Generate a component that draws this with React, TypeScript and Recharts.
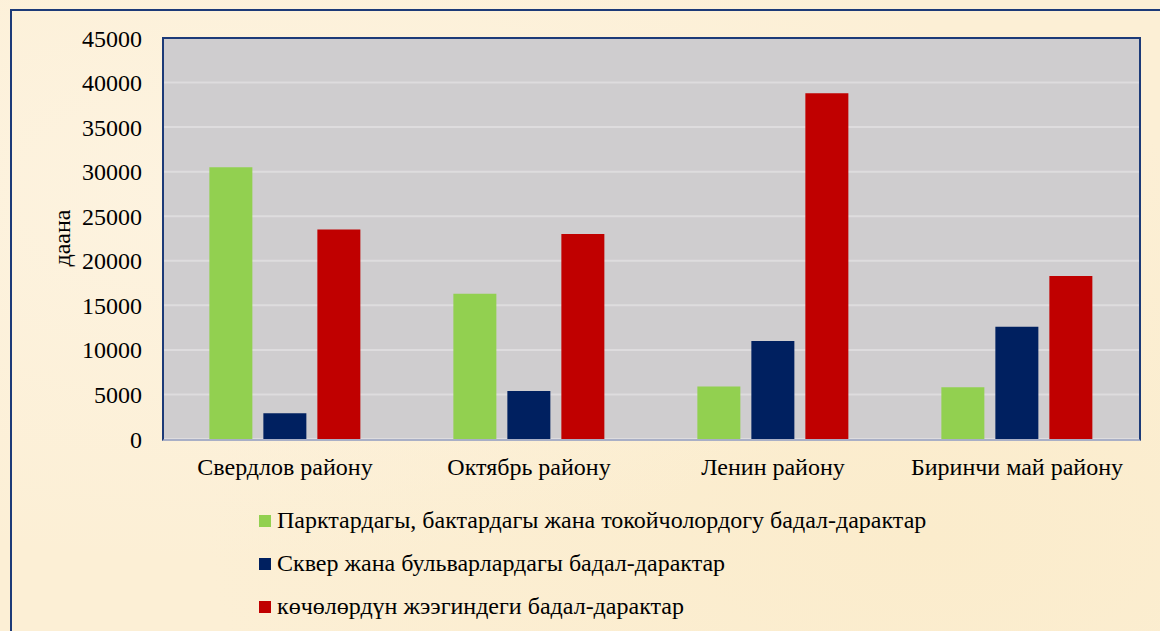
import { BarChart, Bar, XAxis, YAxis, CartesianGrid } from "recharts";

const districts = ["Свердлов району", "Октябрь району", "Ленин району", "Биринчи май району"];
const parks = [30500, 16300, 5900, 5800];
const squares = [2900, 5400, 11000, 12600];
const streets = [23500, 23000, 38800, 18300];
const yTicks = [0, 5000, 10000, 15000, 20000, 25000, 30000, 35000, 40000, 45000];

const seriesKeys = ["parks", "squares", "streets"];
const seriesNames = [
  "Парктардагы, бактардагы жана токойчолордогу бадал-дарактар",
  "Сквер жана бульварлардагы бадал-дарактар",
  "көчөлөрдүн жээгиндеги бадал-дарактар",
];
const seriesColors = ["#92d050", "#002060", "#c00000"];

const data = districts.map((name, i) => ({
  name,
  parks: parks[i],
  squares: squares[i],
  streets: streets[i],
}));

const font = "'Liberation Serif', 'Times New Roman', serif";

export default function App() {
  return (
    <div
      style={{
        position: "absolute",
        left: 0,
        top: 0,
        width: 1160,
        height: 631,
        overflow: "hidden",
        background:
          "radial-gradient(ellipse at 20% 30%, #fdf3e0 0%, transparent 60%), radial-gradient(ellipse at 80% 85%, #fbeccc 0%, transparent 55%), #fcefd5",
      }}
    >
      <div
        style={{
          position: "absolute",
          left: 10,
          top: 9,
          width: 1200,
          height: 700,
          border: "2px solid #1c3a78",
        }}
      />
      <div
        style={{
          position: "absolute",
          left: 62,
          top: 238,
          transform: "translate(-50%, -50%) rotate(-90deg)",
          fontFamily: font,
          fontSize: 24,
          whiteSpace: "nowrap",
        }}
      >
        даана
      </div>
      <div style={{ position: "absolute", left: 0, top: 0 }}>
        <BarChart
          width={1160}
          height={631}
          data={data}
          margin={{ top: 38, right: 21, bottom: 152, left: 63 }}
          barCategoryGap="19%"
          barGap={11}
        >
          <CartesianGrid vertical={false} stroke="#dedcde" strokeWidth={2} fill="#cfcdcf" />
          <XAxis
            dataKey="name"
            axisLine={false}
            tickLine={false}
            tickSize={0}
            tickMargin={19}
            height={40}
            tick={{ fill: "#000", fontSize: 24, fontFamily: font }}
            interval={0}
          />
          <YAxis
            width={100}
            domain={[0, 45000]}
            ticks={yTicks}
            axisLine={false}
            tickLine={false}
            tickSize={0}
            tickMargin={21}
            tick={{ fill: "#000", fontSize: 24, fontFamily: font }}
          />
          {seriesKeys.map((k, i) => (
            <Bar key={k} dataKey={k} name={seriesNames[i]} fill={seriesColors[i]} isAnimationActive={false} />
          ))}
        </BarChart>
      </div>
      <div
        style={{
          position: "absolute",
          left: 162,
          top: 37,
          width: 975,
          height: 400,
          borderTop: "2px solid #1c3a78",
          borderLeft: "2px solid #1c3a78",
          borderRight: "2px solid #1c3a78",
          borderBottom: "2px solid #a9afc6",
          pointerEvents: "none",
        }}
      />
      <div style={{ position: "absolute", left: 259, top: 499, fontFamily: font, fontSize: 24, color: "#000" }}>
        {seriesNames.map((n, i) => (
          <div key={n} style={{ display: "flex", alignItems: "center", height: 43 }}>
            <span style={{ width: 12, height: 12, background: seriesColors[i], marginRight: 6, display: "inline-block" }} />
            <span>{n}</span>
          </div>
        ))}
      </div>
    </div>
  );
}
